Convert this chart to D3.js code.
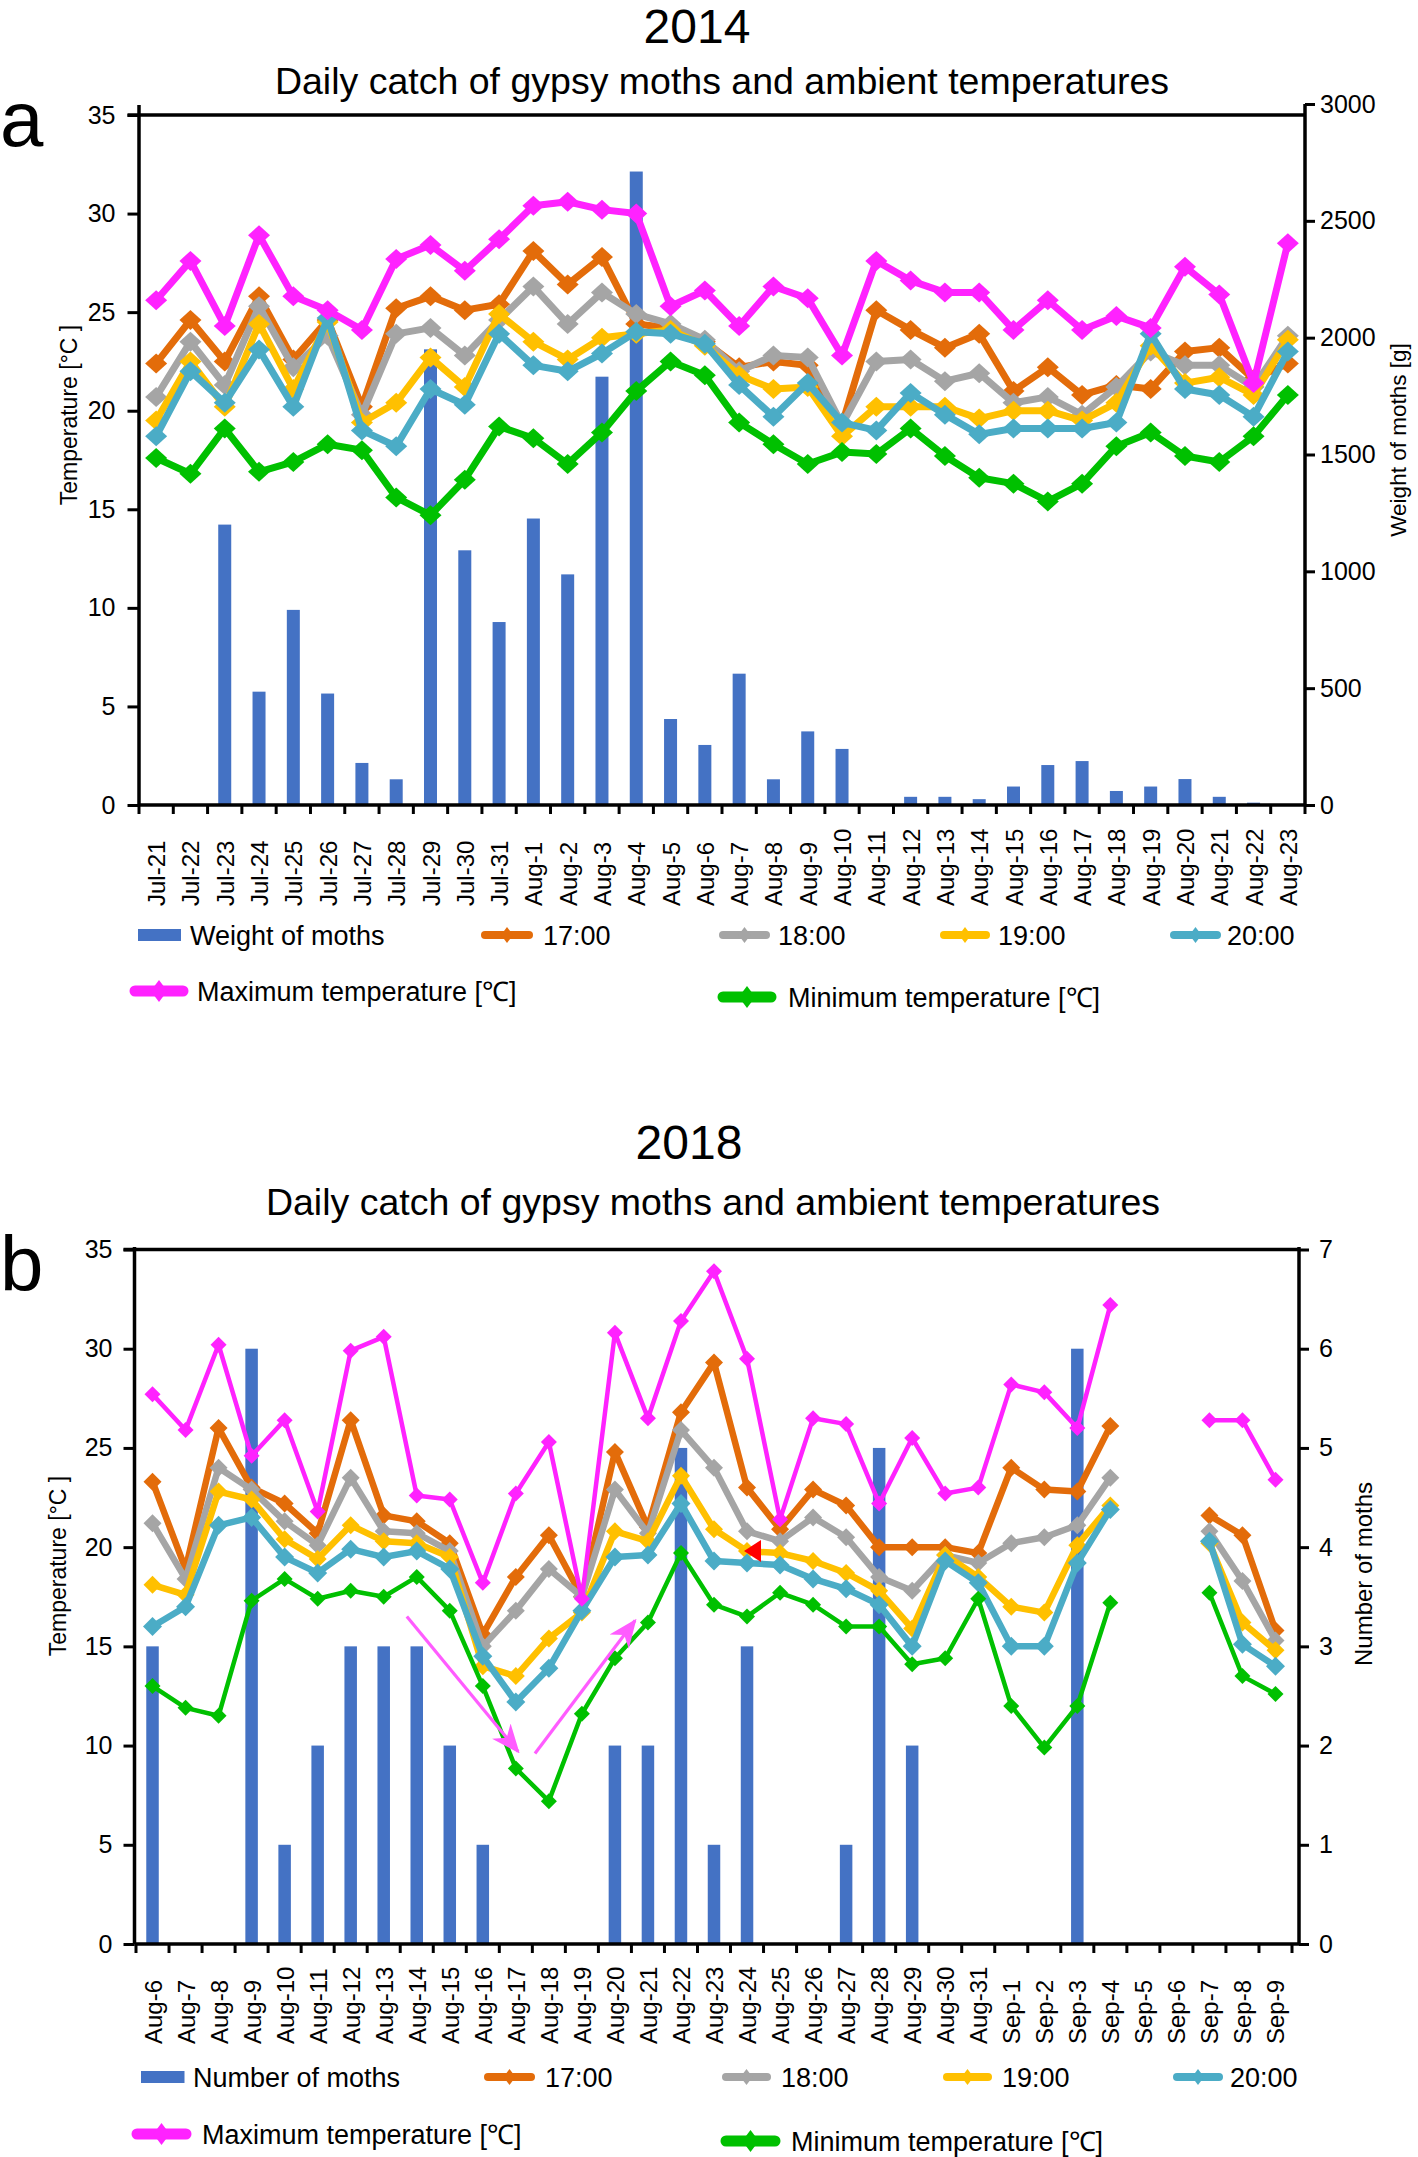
<!DOCTYPE html>
<html><head><meta charset="utf-8">
<script src="https://cdn.jsdelivr.net/npm/d3@7"></script>
<style>
body{margin:0;background:#fff;}
svg{display:block;font-family:"Liberation Sans",Arial,sans-serif;}
</style></head><body>
<svg id="chart" width="1418" height="2157"></svg>
<script>
// ---------------- DATA: panel a (2014) ----------------
const datesA = ["Jul-21","Jul-22","Jul-23","Jul-24","Jul-25","Jul-26","Jul-27","Jul-28","Jul-29","Jul-30","Jul-31",
  "Aug-1","Aug-2","Aug-3","Aug-4","Aug-5","Aug-6","Aug-7","Aug-8","Aug-9","Aug-10","Aug-11","Aug-12","Aug-13",
  "Aug-14","Aug-15","Aug-16","Aug-17","Aug-18","Aug-19","Aug-20","Aug-21","Aug-22","Aug-23"];
const weightA = [0,0,1200,485,835,477,180,110,1950,1090,783,1226,987,1833,2711,368,257,562,110,315,240,0,35,35,25,79,171,188,60,79,111,35,10,0];
const t17A = [22.4,24.6,22.5,25.8,22.6,24.6,20.2,25.2,25.8,25.1,25.4,28.1,26.4,27.8,24.4,24.2,23.5,22.2,22.5,22.3,19.3,25.1,24.1,23.2,23.9,21.0,22.2,20.8,21.3,21.1,23.0,23.2,21.6,22.4];
const t18A = [20.7,23.5,21.3,25.3,22.2,23.8,19.8,23.9,24.2,22.8,24.6,26.3,24.4,26.0,24.9,24.4,23.6,22.0,22.8,22.7,19.3,22.5,22.6,21.5,21.9,20.4,20.7,19.8,21.2,23.0,22.3,22.3,21.2,23.8];
const t19A = [19.5,22.5,20.2,24.4,21.1,24.5,19.4,20.4,22.7,21.2,24.9,23.5,22.6,23.7,23.9,24.1,23.3,21.8,21.1,21.2,18.7,20.2,20.2,20.2,19.6,20.0,20.0,19.5,20.4,23.3,21.4,21.7,20.8,23.6];
const t20A = [18.7,22.0,20.4,23.1,20.2,24.7,19.0,18.2,21.1,20.3,23.9,22.3,22.0,22.9,24.0,23.9,23.4,21.3,19.7,21.4,19.4,19.0,20.9,19.8,18.8,19.1,19.1,19.1,19.4,23.9,21.1,20.8,19.7,23.0];
const maxA = [25.6,27.6,24.3,28.9,25.8,25.1,24.1,27.7,28.4,27.1,28.7,30.4,30.6,30.2,30.0,25.3,26.1,24.3,26.3,25.7,22.8,27.6,26.6,26.0,26.0,24.1,25.6,24.1,24.8,24.2,27.3,25.9,21.4,28.5];
const minA = [17.6,16.8,19.1,16.9,17.4,18.3,18.0,15.6,14.7,16.5,19.2,18.6,17.3,18.9,21.0,22.5,21.8,19.4,18.3,17.3,17.9,17.8,19.1,17.7,16.6,16.3,15.4,16.3,18.2,18.9,17.7,17.4,18.7,20.8];

// ---------------- DATA: panel b (2018) ----------------
const datesB = ["Aug-6","Aug-7","Aug-8","Aug-9","Aug-10","Aug-11","Aug-12","Aug-13","Aug-14","Aug-15","Aug-16","Aug-17",
  "Aug-18","Aug-19","Aug-20","Aug-21","Aug-22","Aug-23","Aug-24","Aug-25","Aug-26","Aug-27","Aug-28","Aug-29","Aug-30",
  "Aug-31","Sep-1","Sep-2","Sep-3","Sep-4","Sep-5","Sep-6","Sep-7","Sep-8","Sep-9"];
const mothsB = [3,0,0,6,1,2,3,3,3,2,1,0,0,0,2,2,5,1,3,0,0,1,5,2,0,0,0,0,6,0,0,0,0,0,0];
const t17B = [23.3,18.9,26.0,23.0,22.2,20.7,26.4,21.6,21.3,20.2,15.6,18.5,20.6,17.5,24.8,21.0,26.8,29.3,23.0,20.9,22.9,22.1,20.0,20.0,20.0,19.7,24.0,22.9,22.8,26.1,null,null,21.6,20.6,15.8];
const t18B = [21.2,18.4,24.0,22.9,21.3,20.1,23.5,20.8,20.7,19.8,15.0,16.8,18.9,17.5,22.9,20.7,25.9,24.0,20.8,20.3,21.5,20.5,18.5,17.8,19.6,19.2,20.2,20.5,21.1,23.5,null,null,20.8,18.3,15.3];
const t19B = [18.1,17.6,22.8,22.4,20.4,19.4,21.1,20.3,20.2,19.5,14.0,13.5,15.4,16.7,20.8,20.3,23.6,20.9,19.8,19.7,19.3,18.7,17.8,15.9,19.6,18.5,17.0,16.7,20.1,22.1,null,null,20.2,16.2,14.8];
const t20B = [16.0,17.0,21.1,21.5,19.5,18.7,19.9,19.5,19.8,18.9,14.5,12.2,13.9,16.8,19.5,19.6,22.2,19.3,19.2,19.1,18.4,17.9,17.1,15.0,19.3,18.2,15.0,15.0,19.2,21.9,null,null,20.3,15.1,14.0];
const maxB = [27.7,25.9,30.2,24.6,26.4,21.8,29.9,30.6,22.6,22.4,18.2,22.7,25.3,17.4,30.8,26.5,31.4,33.9,29.5,21.4,26.5,26.2,22.2,25.5,22.7,23.0,28.2,27.8,26.0,32.2,null,null,26.4,26.4,23.4];
const minB = [13.0,11.9,11.5,17.3,18.4,17.4,17.8,17.5,18.5,16.8,13.0,8.85,7.2,11.6,14.4,16.2,19.7,17.1,16.5,17.7,17.1,16.0,16.0,14.1,14.4,17.4,12.0,9.9,12.0,17.2,null,null,17.7,13.5,12.6];
// annotations in panel b (fractional category index, temperature)
const arrowsB = [{i0:7.70,t0:16.5,i1:11.07,t1:9.7},{i0:11.58,t0:9.6,i1:14.61,t1:16.3}];
const triangleB = {i:18.15, t:19.8};

// ticks
const tempTicks = [0,5,10,15,20,25,30,35];
const weightTicks = [0,500,1000,1500,2000,2500,3000];
const mothTicks = [0,1,2,3,4,5,6,7];

const C = {bar:"#4472C4", o:"#E36C0A", g:"#A5A5A5", y:"#FFC000", c:"#4BACC6", m:"#FF22FF", n:"#00C000", arrow:"#FF5CFF"};

const svg = d3.select("#chart");
svg.append("rect").attr("width",1418).attr("height",2157).attr("fill","#fff");

function diamond(w,h){return `M0,${-h}L${w},0L0,${h}L${-w},0Z`;}

function drawPanel(P){
  const g = svg.append("g");
  const x = d3.scaleBand().domain(P.cats).range(P.xRange).paddingInner(0).paddingOuter(0);
  const cx = c => x(c) + x.bandwidth()/2;
  const yL = d3.scaleLinear().domain([0,35]).range([P.y0,P.y35]);
  const yR = d3.scaleLinear().domain([0,P.rMax]).range([P.y0,P.yRTop]);

  // titles
  g.append("text").attr("x",P.yearX).attr("y",P.yearY).attr("text-anchor","middle").attr("font-size",48).text(P.year);
  g.append("text").attr("x",P.subX).attr("y",P.subY).attr("text-anchor","middle").attr("font-size",37.5)
    .text("Daily catch of gypsy moths and ambient temperatures");
  g.append("text").attr("x",0).attr("y",P.letterY).attr("font-size",78).text(P.letter);

  // bars
  const barData = P.cats.map((c,i)=>({c,v:P.bars[i]})).filter(d=>d.v>0);
  g.selectAll(null).data(barData).join("rect")
    .attr("x",d=>cx(d.c)-P.barW/2).attr("width",P.barW)
    .attr("y",d=>yR(d.v)).attr("height",d=>P.y0-yR(d.v)).attr("fill",C.bar);

  // axes frame
  const ax = g.append("g").attr("stroke","#000").attr("stroke-width",3.5).attr("fill","none");
  ax.append("line").attr("x1",P.leftX-P.tickLen).attr("x2",P.rightX).attr("y1",P.y35).attr("y2",P.y35);
  ax.append("line").attr("x1",P.leftX).attr("x2",P.leftX).attr("y1",P.axTop).attr("y2",P.y0);
  ax.append("line").attr("x1",P.rightX).attr("x2",P.rightX).attr("y1",P.axTopR).attr("y2",P.y0);
  ax.append("line").attr("x1",P.leftX).attr("x2",P.rightX).attr("y1",P.y0).attr("y2",P.y0);
  // x ticks at band boundaries
  const bounds = P.cats.map(c=>x(c)).concat([P.xRange[1]]);
  g.append("g").selectAll(null).data(bounds).join("line")
    .attr("x1",d=>d).attr("x2",d=>d).attr("y1",P.y0).attr("y2",P.y0+9)
    .attr("stroke","#000").attr("stroke-width",3);
  // x labels
  g.append("g").selectAll(null).data(P.cats).join("text")
    .attr("transform",c=>`translate(${cx(c)+9},${P.xLabY}) rotate(-90)`)
    .attr("font-size",24).attr("text-anchor","start").text(c=>c);

  // left axis
  const la = g.append("g").attr("transform",`translate(${P.leftX},0)`)
    .call(d3.axisLeft(yL).tickValues(tempTicks).tickFormat(d3.format("d")).tickSize(P.tickLen).tickPadding(P.lPad));
  la.select(".domain").remove();
  la.selectAll(".tick line").attr("stroke","#000").attr("stroke-width",3);
  la.selectAll(".tick text").attr("font-size",25).attr("font-family","Liberation Sans, Arial, sans-serif").attr("fill","#000");
  // right axis
  const ra = g.append("g").attr("transform",`translate(${P.rightX},0)`)
    .call(d3.axisRight(yR).tickValues(P.rTicks).tickFormat(d3.format("d")).tickSize(10).tickPadding(P.rPad));
  ra.select(".domain").remove();
  ra.selectAll(".tick line").attr("stroke","#000").attr("stroke-width",3);
  ra.selectAll(".tick text").attr("font-size",25).attr("font-family","Liberation Sans, Arial, sans-serif").attr("fill","#000");

  // axis titles
  g.append("text").attr("transform",`translate(${P.lTitleX},${P.lTitleY}) rotate(-90)`)
    .attr("text-anchor","middle").attr("font-size",23).text("Temperature [°C ]");
  g.append("text").attr("transform",`translate(${P.rTitleX},${P.rTitleY}) rotate(-90)`)
    .attr("text-anchor","middle").attr("font-size",P.rTitleSize).text(P.rTitle);

  // lines
  P.series.forEach(s=>{
    const pts = P.cats.map((c,i)=>({c,v:s.values[i]}));
    const line = d3.line().defined(d=>d.v!=null).x(d=>cx(d.c)).y(d=>yL(d.v));
    g.append("path").attr("d",line(pts)).attr("fill","none").attr("stroke",s.color)
      .attr("stroke-width",s.lw).attr("stroke-linejoin","round");
    g.append("g").selectAll(null).data(pts.filter(d=>d.v!=null)).join("path")
      .attr("d",diamond(s.mw,s.mh)).attr("transform",d=>`translate(${cx(d.c)},${yL(d.v)})`).attr("fill",s.color);
  });

  // annotations
  if (P.arrows){
    const fx = i => P.xRange[0] + x.step()*(i+0.5);
    const defs = svg.append("defs");
    defs.append("marker").attr("id","ah").attr("viewBox","0 0 12 10").attr("refX",11).attr("refY",5)
      .attr("markerWidth",9).attr("markerHeight",8).attr("markerUnits","strokeWidth").attr("orient","auto")
      .append("path").attr("d","M0,0L12,5L0,10L3.5,5Z").attr("fill",C.arrow);
    g.selectAll(null).data(P.arrows).join("line")
      .attr("x1",d=>fx(d.i0)).attr("y1",d=>yL(d.t0)).attr("x2",d=>fx(d.i1)).attr("y2",d=>yL(d.t1))
      .attr("stroke",C.arrow).attr("stroke-width",3.2).attr("marker-end","url(#ah)");
    const tx = fx(P.tri.i), ty = yL(P.tri.t);
    g.append("path").attr("d","M-8,0L9,-11L9,11Z").attr("transform",`translate(${tx},${ty})`).attr("fill","#FF0000");
  }

  // legend
  P.legend.forEach(L=>{
    if (L.type==="rect"){
      g.append("rect").attr("x",L.x1).attr("y",L.y-6).attr("width",L.x2-L.x1).attr("height",12).attr("fill",L.color);
    } else {
      g.append("line").attr("x1",L.x1+4).attr("x2",L.x2-4).attr("y1",L.y).attr("y2",L.y)
        .attr("stroke",L.color).attr("stroke-width",L.lw).attr("stroke-linecap","round");
      g.append("path").attr("d",diamond(L.lw*0.75,L.lw*1.0)).attr("transform",`translate(${(L.x1+L.x2)/2},${L.y})`).attr("fill",L.color);
    }
    g.append("text").attr("x",L.tx).attr("y",L.y+9.7).attr("font-size",27).text(L.text);
  });
}

drawPanel({
  cats:datesA, bars:weightA, year:"2014", letter:"a",
  xRange:[139,1305], leftX:139, rightX:1305, y0:805, y35:115, yRTop:104, axTop:105, axTopR:104,
  rMax:3000, rTicks:weightTicks, tickLen:11.5, lPad:12, rPad:5, barW:13, xLabY:906,
  yearX:697, yearY:43, subX:722, subY:94, letterY:146,
  lTitleX:77, lTitleY:415, rTitleX:1406, rTitleY:440, rTitleSize:22.5, rTitle:"Weight of moths [g]",
  series:[
    {values:t17A,color:C.o,lw:7,mw:11,mh:10},
    {values:t18A,color:C.g,lw:7,mw:11,mh:10},
    {values:t19A,color:C.y,lw:7,mw:11,mh:10},
    {values:t20A,color:C.c,lw:7,mw:11,mh:10},
    {values:maxA,color:C.m,lw:7,mw:11,mh:10},
    {values:minA,color:C.n,lw:7,mw:11,mh:10}
  ],
  legend:[
    {type:"rect",color:C.bar,x1:138,x2:181,y:935,tx:190,text:"Weight of moths"},
    {type:"line",color:C.o,x1:481,x2:533,y:935,lw:8,tx:543,text:"17:00"},
    {type:"line",color:C.g,x1:719,x2:770,y:935,lw:8,tx:778,text:"18:00"},
    {type:"line",color:C.y,x1:940,x2:990,y:935,lw:8,tx:998,text:"19:00"},
    {type:"line",color:C.c,x1:1170,x2:1221,y:935,lw:8,tx:1227,text:"20:00"},
    {type:"line",color:C.m,x1:131,x2:187,y:991,lw:11,tx:197,text:"Maximum temperature [℃]"},
    {type:"line",color:C.n,x1:719,x2:775,y:997,lw:11,tx:788,text:"Minimum temperature [℃]"}
  ]
});

drawPanel({
  cats:datesB, bars:mothsB, year:"2018", letter:"b",
  xRange:[136,1292], leftX:134.5, rightX:1299, y0:1944, y35:1249.5, yRTop:1249.5, axTop:1247, axTopR:1247,
  rMax:7, rTicks:mothTicks, tickLen:11, lPad:11, rPad:10, barW:12.5, xLabY:2044,
  yearX:689, yearY:1159, subX:713, subY:1214.5, letterY:1291,
  lTitleX:66, lTitleY:1566, rTitleX:1372, rTitleY:1574, rTitleSize:24, rTitle:"Number of moths",
  series:[
    {values:t17B,color:C.o,lw:6.5,mw:9,mh:9},
    {values:t18B,color:C.g,lw:6.5,mw:9,mh:9},
    {values:t19B,color:C.y,lw:6.5,mw:9,mh:9},
    {values:t20B,color:C.c,lw:6.5,mw:9.5,mh:9.5},
    {values:maxB,color:C.m,lw:4.5,mw:8,mh:8},
    {values:minB,color:C.n,lw:4.5,mw:8,mh:8}
  ],
  arrows:arrowsB, tri:triangleB,
  legend:[
    {type:"rect",color:C.bar,x1:141,x2:184.5,y:2077,tx:193,text:"Number of moths"},
    {type:"line",color:C.o,x1:484,x2:535,y:2077,lw:8,tx:545,text:"17:00"},
    {type:"line",color:C.g,x1:722,x2:771,y:2077,lw:8,tx:781,text:"18:00"},
    {type:"line",color:C.y,x1:943,x2:992,y:2077,lw:8,tx:1002,text:"19:00"},
    {type:"line",color:C.c,x1:1173,x2:1223,y:2077,lw:8,tx:1230,text:"20:00"},
    {type:"line",color:C.m,x1:133,x2:190,y:2134,lw:11,tx:202,text:"Maximum temperature [℃]"},
    {type:"line",color:C.n,x1:722,x2:779,y:2141,lw:11,tx:791,text:"Minimum temperature [℃]"}
  ]
});
</script>
</body></html>
